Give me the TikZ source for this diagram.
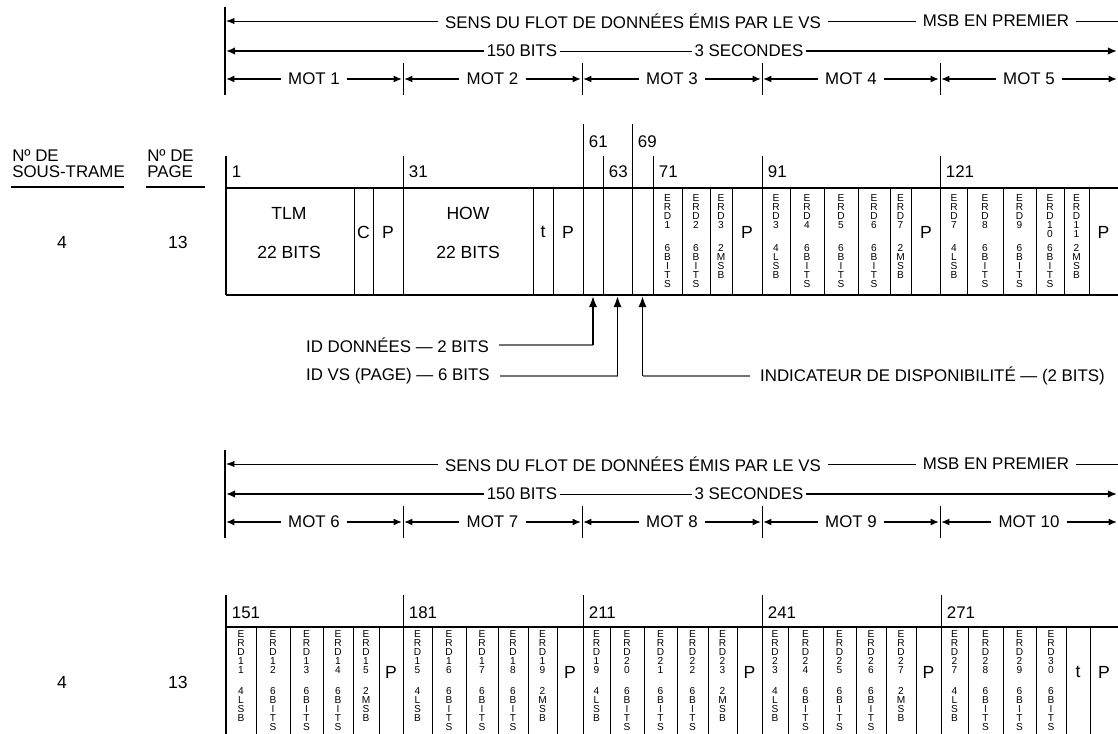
\documentclass[tikz,border=0pt]{standalone}
\usepackage{fontspec}
\setmainfont{Liberation Sans}
\usetikzlibrary{arrows.meta, positioning, calc}

% lettres empilees (une par ligne)
\def\stkA#1{\ifx#1\relax\else\hbox to 0pt{\hss#1\hss}\expandafter\stkA\fi}
\newcommand\stk[1]{\vtop{\baselineskip=6.4pt\lineskiplimit=-20pt\expandafter\stkA#1\relax}}

% bandeau "sens du flot" ; #1 decalage, #2 suffixe, #3 premier mot
\newcommand\entete[3]{%
  \begin{scope}[shift={(0,#1)}]
    \draw[barre] (225,7) -- (225,95);
    \node[hdr] (sens#2) at (633,21) {SENS DU FLOT DE DONNÉES ÉMIS PAR LE VS};
    \node[hdr] (msb#2)  at (996,21) {MSB EN PREMIER};
    \coordinate (ga#2) at (226,21);
    \coordinate (da#2) at (1118,21);
    \draw[fin, -{Latex[length=6pt,width=4.5pt]}] (sens#2.west) -- (ga#2);
    \draw[fin] (sens#2.east) -- (msb#2.west);
    \draw[fin] (msb#2.east) -- (da#2);
    \node[hdr, inner xsep=1.5pt] (bits#2) at (522,51) {150 BITS};
    \node[hdr, inner xsep=1.5pt] (sec#2)  at (749,51) {3 SECONDES};
    \coordinate (gb#2) at (226,51);
    \coordinate (db#2) at (1117,51);
    \draw[gros] (bits#2.west) -- (gb#2);
    \draw[fin] (bits#2.east) -- (sec#2.west);
    \draw[gros] (sec#2.east) -- (db#2);
    \foreach \x in {403,582,762,940}
      \draw[sep] (\x,63) -- (\x,95);
    \foreach \xa/\xb [count=\k from #3] in {225/403,403/582,582/762,762/940,940/1118}{
      \node[hdr] (mot#2\k) at ({(\xa+\xb)/2},79) {MOT \k};
      \coordinate (mg#2\k) at (\xa+1,79);
      \coordinate (md#2\k) at (\xb-1,79);
      \draw[moy] (mot#2\k.west) -- (mg#2\k);
      \draw[moy] (mot#2\k.east) -- (md#2\k);
    }
  \end{scope}}

\begin{document}
\begin{tikzpicture}[x=0.025cm, y=-0.025cm,
    hdr/.style={font=\fontsize{12}{14}\selectfont, inner xsep=5pt, inner ysep=2pt},
    txt/.style={font=\fontsize{12.5}{14}\selectfont, inner sep=0pt},
    numb/.style={font=\fontsize{12}{14}\selectfont, anchor=west,
                 inner xsep=4pt, inner ysep=0pt},
    erd/.style={font=\fontsize{7.2}{6.4}\selectfont, inner sep=0pt, anchor=north},
    lbl/.style={font=\fontsize{12}{14}\selectfont, anchor=west, inner xsep=7pt},
    fin/.style={line width=0.6pt},
    moy/.style={line width=1.1pt, -{Latex[length=6pt,width=5pt]}},
    gros/.style={line width=1.4pt, -{Latex[length=6.5pt,width=5.5pt]}},
    barre/.style={line width=1.4pt},
    cadre/.style={line width=1pt},
    sep/.style={line width=0.7pt},
    upa/.style={line width=1.4pt, -{Latex[length=8pt,width=6pt]}},
    lien/.style={line width=0.8pt, black!55}
  ]
  \useasboundingbox (0,0) rectangle (1118,734);

  \entete{0}{h}{1}
  \entete{443}{b}{6}

  % colonnes de gauche
  \node[txt, align=left, anchor=north west, font=\fontsize{12}{12}\selectfont]
        (soustr) at (12,149) {Nº DE\\SOUS-TRAME};
  \node[txt, align=left, anchor=north west, font=\fontsize{12}{12}\selectfont]
        (page) at (147,149) {Nº DE\\PAGE};
  \draw[barre] (11,187) -- (124,187);
  \draw[barre] (146,187) -- (205,187);
  \node[txt] (st1) at (62,242) {4};
  \node[txt] (pg1) at (178,242) {13};
  \node[txt] (st2) at (62,682) {4};
  \node[txt] (pg2) at (178,682) {13};

  % trame 1
  \draw[cadre] (226,188) -- (1118,188) (226,295) -- (1118,295);
  \draw[cadre] (226,156) -- (226,295);
  \foreach \x in {354,373,533,553,682,710,732,790,824,858,890,911,967,1003,1036,1064,1089}
    \draw[sep] (\x,188) -- (\x,295);
  \foreach \x/\yy in {403/156, 583/124, 603/156, 632/124, 653/156, 762/156, 940/156}
    \draw[sep] (\x,\yy) -- (\x,295);
  \foreach \x/\yy/\nb in {226/172/1, 403/172/31, 583/142/61, 603/172/63,
                          632/142/69, 653/172/71, 762/172/91, 940/172/121}
    \node[numb] (n\nb) at (\x,\yy) {\nb};

  \node[txt, align=center] (tlm) at (289,233) {TLM\\[13.7pt]22 BITS};
  \node[txt] (c1) at (363.5,232) {C};
  \node[txt] (p1) at (388,232) {P};
  \node[txt, align=center] (how) at (468,233) {HOW\\[13.7pt]22 BITS};
  \node[txt] (t1) at (543,232) {t};
  \node[txt] (p2) at (568,232) {P};
  \foreach \xa/\xb in {732/762, 911/941, 1089/1118}
    \node[txt] (p\xa) at ({(\xa+\xb)/2},232) {P};
  \foreach \xa/\xb/\haut/\bas in {653/682/ERD1/6BITS, 682/710/ERD2/6BITS,
      710/732/ERD3/2MSB, 762/790/ERD3/4LSB, 790/824/ERD4/6BITS,
      824/858/ERD5/6BITS, 858/890/ERD6/6BITS, 890/911/ERD7/2MSB,
      941/967/ERD7/4LSB, 967/1003/ERD8/6BITS, 1003/1036/ERD9/6BITS,
      1036/1064/ERD10/6BITS, 1064/1089/ERD11/2MSB}{
    \node[erd] (ea\xa) at ({(\xa+\xb)/2},194) {\stk{\haut}};
    \node[erd] (eb\xa) at ({(\xa+\xb)/2},244) {\stk{\bas}};
  }

  % identifiants
  \coordinate (c61) at (593,296);
  \coordinate (c63) at (617.5,296);
  \coordinate (c69) at (642.5,296);
  \node[lbl] (idd)  at (296,345) {ID DONNÉES — 2 BITS};
  \node[lbl] (idvs) at (296,376) {ID VS (PAGE) — 6 BITS};
  \node[lbl] (ind)  at (750,376) {INDICATEUR DE DISPONIBILITÉ — (2 BITS)};
  \draw[lien] (idd.east) -- (idd.east -| c61);
  \draw[upa] (idd.east -| c61) -- (c61);
  \draw[lien] (idvs.east) -- (idvs.east -| c63);
  \draw[upa] (idvs.east -| c63) -- (c63);
  \draw[lien] (ind.west) -- (ind.west -| c69);
  \draw[upa] (ind.west -| c69) -- (c69);

  % trame 2
  \draw[cadre] (226,627) -- (1118,627);
  \draw[cadre] (226,595) -- (226,734);
  \foreach \x in {403,583,762,941}
    \draw[sep] (\x,595) -- (\x,734);
  \foreach \x in {256,290,323,353,379,432,466,498,528,557,610,644,677,708,737,
                  788,823,856,886,916,968,1003,1036,1066,1090}
    \draw[sep] (\x,627) -- (\x,734);
  \foreach \x/\nb in {226/151, 403/181, 583/211, 762/241, 941/271}
    \node[numb] (n\nb) at (\x,613) {\nb};
  \foreach \xa/\xb in {379/403, 557/583, 737/762, 916/941, 1090/1118}
    \node[txt] (q\xa) at ({(\xa+\xb)/2},672) {P};
  \node[txt] (t2) at (1078,672) {t};
  \foreach \xa/\xb/\haut/\bas in {226/256/ERD11/4LSB, 256/290/ERD12/6BITS,
      290/323/ERD13/6BITS, 323/353/ERD14/6BITS, 353/379/ERD15/2MSB,
      403/432/ERD15/4LSB, 432/466/ERD16/6BITS, 466/498/ERD17/6BITS,
      498/528/ERD18/6BITS, 528/557/ERD19/2MSB,
      583/610/ERD19/4LSB, 610/644/ERD20/6BITS, 644/677/ERD21/6BITS,
      677/708/ERD22/6BITS, 708/737/ERD23/2MSB,
      762/788/ERD23/4LSB, 788/823/ERD24/6BITS, 823/856/ERD25/6BITS,
      856/886/ERD26/6BITS, 886/916/ERD27/2MSB,
      941/968/ERD27/4LSB, 968/1003/ERD28/6BITS, 1003/1036/ERD29/6BITS,
      1036/1066/ERD30/6BITS}{
    \node[erd] (fa\xa) at ({(\xa+\xb)/2},630) {\stk{\haut}};
    \node[erd] (fb\xa) at ({(\xa+\xb)/2},687) {\stk{\bas}};
  }
\end{tikzpicture}
\end{document}
